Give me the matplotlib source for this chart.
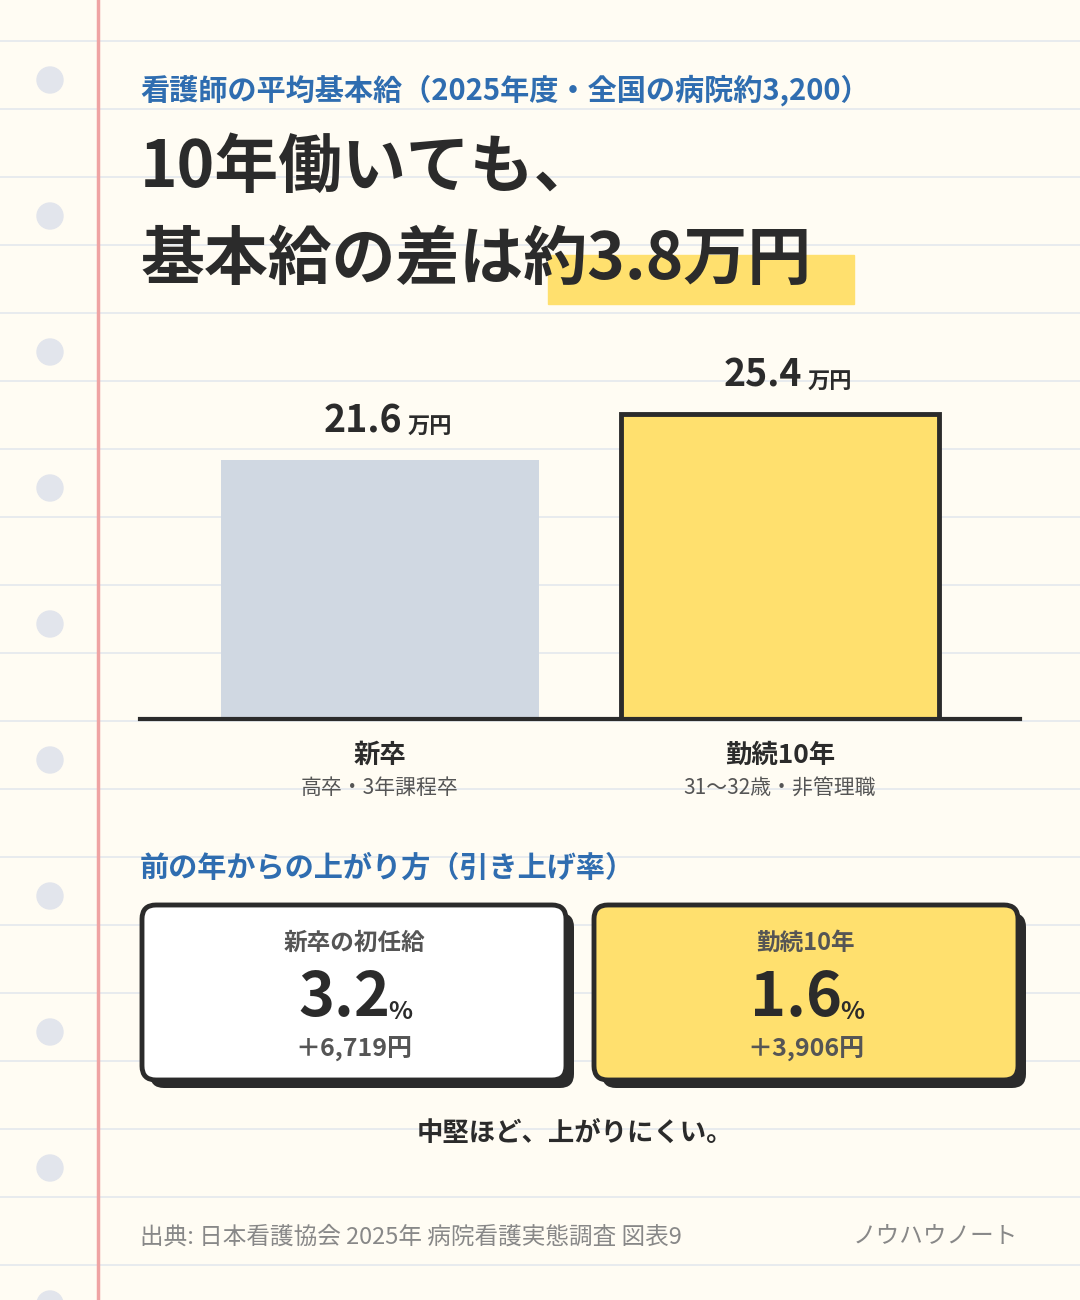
import matplotlib
matplotlib.use("Agg")
import matplotlib.pyplot as plt
from matplotlib.patches import FancyBboxPatch, Circle, Rectangle

plt.rcParams['font.family'] = ['Noto Sans CJK JP', 'DejaVu Sans']

categories = ["新卒", "勤続10年"]
subtitles = ["高卒・3年課程卒", "31〜32歳・非管理職"]
salaries = [21.6, 25.4]
raise_rates = ["3.2", "1.6"]
raise_yen = ["＋6,719円", "＋3,906円"]
card_titles = ["新卒の初任給", "勤続10年"]

BG = "#FFFCF3"
YELLOW = "#FFE06E"
GREY_BAR = "#D0D8E2"
DARK = "#2B2B2B"
BLUE = "#2F6DB0"

W, H = 1080, 1300
fig = plt.figure(figsize=(W / 100, H / 100), dpi=100, facecolor=BG)
bg = fig.add_axes([0, 0, 1, 1])
bg.set_xlim(0, W)
bg.set_ylim(H, 0)
bg.axis("off")
bg.set_facecolor(BG)

# notebook lines, margin, holes
for y in range(41, H, 68):
    bg.plot([0, W], [y, y], color="#E4E8EE", lw=1.2, zorder=0)
bg.plot([98, 98], [0, H], color="#EFA3A3", lw=2.5, zorder=1)
for y in range(80, H + 20, 136):
    bg.add_patch(Circle((50, y), 13, color="#E2E5EC", zorder=1))

def t(x, y, s, **kw):
    bg.text(x, y, s, **kw)

t(140, 90, "看護師の平均基本給（2025年度・全国の病院約3,200）", fontsize=21,
  color=BLUE, fontweight="bold", va="center")
bg.add_patch(Rectangle((548, 255), 306, 49, color=YELLOW, zorder=2))
t(140, 168, "10年働いても、", fontsize=46, fontweight="bold", color=DARK,
  va="center", zorder=3)
t(140, 260, "基本給の差は約3.8万円", fontsize=46, fontweight="bold", color=DARK,
  va="center", zorder=3)

# bar chart
ax = fig.add_axes([140 / W, 1 - 719 / H, 880 / W, 389 / H])
ax.set_facecolor("none")
ax.set_xlim(-0.6, 1.6)
ax.set_ylim(0, 389 / 12.0)
colors = [GREY_BAR, YELLOW]
edges = ["none", DARK]
bars = ax.bar([0, 1], salaries, width=0.795, color=colors, edgecolor=edges,
              linewidth=[0, 3.5], zorder=2)
for sp in ["top", "right", "left"]:
    ax.spines[sp].set_visible(False)
ax.spines["bottom"].set_linewidth(3)
ax.spines["bottom"].set_color(DARK)
ax.set_yticks([])
ax.set_xticks([])
for i, v in enumerate(salaries):
    ax.annotate(f"{v}", (i, v), xytext=(-12, 14), textcoords="offset points",
                ha="center", va="bottom", fontsize=27, fontweight="bold", color=DARK)
    ax.annotate("万円", (i, v), xytext=(36, 15), textcoords="offset points",
                ha="center", va="bottom", fontsize=16, fontweight="bold", color=DARK)
    cx = 140 + (i + 0.6) / 2.2 * 880
    t(cx, 755, categories[i], fontsize=19, fontweight="bold", color=DARK,
      ha="center", va="center")
    t(cx, 788, subtitles[i], fontsize=15, color="#555555", ha="center", va="center")

t(140, 868, "前の年からの上がり方（引き上げ率）", fontsize=21, color=BLUE,
  fontweight="bold", va="center")

# cards
for i in range(2):
    x0 = 142 + i * 452
    face = "white" if i == 0 else YELLOW
    bg.add_patch(FancyBboxPatch((x0 + 8, 913), 424, 175,
                                boxstyle="round,pad=0,rounding_size=14",
                                fc=DARK, ec="none", zorder=2))
    bg.add_patch(FancyBboxPatch((x0, 905), 424, 175,
                                boxstyle="round,pad=0,rounding_size=14",
                                fc=face, ec=DARK, lw=3.5, zorder=3))
    cx = x0 + 212
    t(cx, 943, card_titles[i], fontsize=17, fontweight="bold", color="#555555",
      ha="center", va="center", zorder=4)
    t(cx - 10, 998, raise_rates[i], fontsize=44, fontweight="bold", color=DARK,
      ha="center", va="center", zorder=4)
    t(cx + 46, 1012, "%", fontsize=18, fontweight="bold", color=DARK,
      ha="center", va="center", zorder=4)
    t(cx, 1049, raise_yen[i], fontsize=18, fontweight="bold", color="#555555",
      ha="center", va="center", zorder=4)

t(575, 1133, "中堅ほど、上がりにくい。", fontsize=19, fontweight="bold", color=DARK,
  ha="center", va="center")
t(140, 1237, "出典: 日本看護協会 2025年 病院看護実態調査 図表9", fontsize=17,
  color="#888888", va="center")
t(1018, 1237, "ノウハウノート", fontsize=17, color="#888888", ha="right", va="center")

fig.savefig("out.png", dpi=100, facecolor=BG)
